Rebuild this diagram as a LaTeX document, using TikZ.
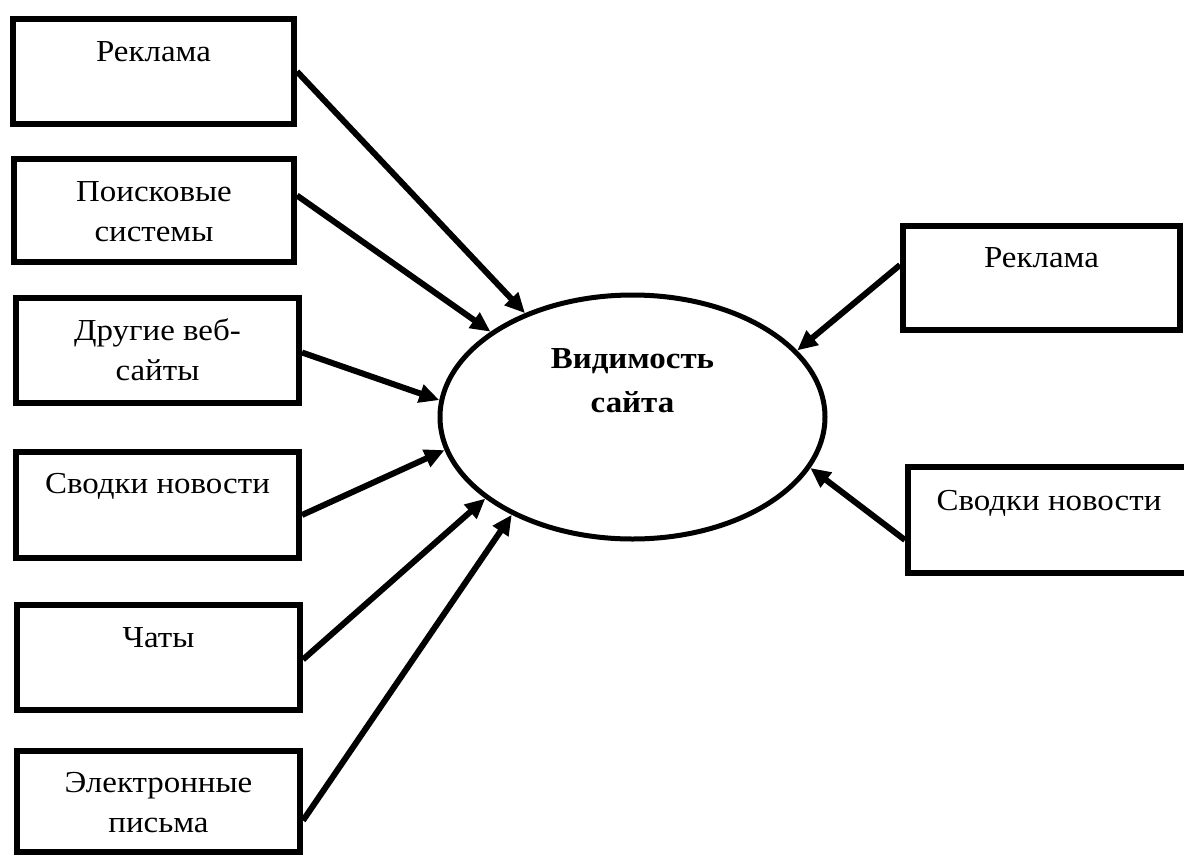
\documentclass[tikz,border=0pt]{standalone}
\usepackage{fontspec}
\setmainfont{Liberation Serif}[FakeStretch=1.08]
\usetikzlibrary{arrows.meta,shapes.geometric}
\begin{document}
\begin{tikzpicture}[x=1pt,y=-1pt,
  every node/.style={font=\fontsize{30.5}{40}\selectfont},
  srcbox/.style={draw, rectangle, line width=6pt, inner sep=0pt},
  lbl/.style={anchor=base, inner sep=0pt},
  feed/.style={line width=6pt, -{Triangle[length=20pt,width=18pt]}}]
\useasboundingbox (0,0) rectangle (1184,855);
\clip (0,0) rectangle (1184,855);

% central ellipse
\node[draw, ellipse, line width=5pt, minimum width=385pt, minimum height=244pt, inner sep=0pt] (vis) at (632.5,417) {};
\node[lbl, font=\bfseries\fontsize{30.5}{44}\selectfont] (vistext) at (632.5,368)
  {\begin{tabular}[t]{@{}c@{}}Видимость\\сайта\end{tabular}};

% sources on the left
\node[srcbox, minimum width=281pt, minimum height=105pt] (b1) at (153.5,71.5) {};
\node[srcbox, minimum width=280pt, minimum height=103pt] (b2) at (154,210.5) {};
\node[srcbox, minimum width=283pt, minimum height=105pt] (b3) at (157.5,350.5) {};
\node[srcbox, minimum width=283pt, minimum height=106pt] (b4) at (157.5,505) {};
\node[srcbox, minimum width=283pt, minimum height=105pt] (b5) at (158.5,657.5) {};
\node[srcbox, minimum width=283pt, minimum height=101pt] (b6) at (158.5,801.5) {};

% sources on the right
\node[srcbox, minimum width=277pt, minimum height=104pt] (r1) at (1041.5,278) {};
\node[srcbox, minimum width=282pt, minimum height=106pt] (r2) at (1049,520) {};

% labels
\node[lbl] (t1) at ([yshift=-45pt]b1.north) {Реклама};
\node[lbl] (t2) at ([yshift=-45pt]b2.north) {\begin{tabular}[t]{@{}c@{}}Поисковые\\системы\end{tabular}};
\node[lbl] (t3) at ([yshift=-45pt]b3.north) {\begin{tabular}[t]{@{}c@{}}Другие веб-\\сайты\end{tabular}};
\node[lbl] (t4) at ([yshift=-44pt]b4.north) {Сводки новости};
\node[lbl] (t5) at ([yshift=-45pt]b5.north) {Чаты};
\node[lbl] (t6) at ([yshift=-44pt]b6.north) {\begin{tabular}[t]{@{}c@{}}Электронные\\письма\end{tabular}};
\node[lbl] (t7) at ([yshift=-44pt]r1.north) {Реклама};
\node[lbl] (t8) at ([yshift=-46pt]r2.north) {Сводки новости};

% connectors
\draw[feed] (b1.east) -- (vis.136.7);
\draw[feed] ([yshift=15pt]b2.east) -- (vis.149.8);
\draw[feed] ([yshift=-2pt]b3.east) -- (vis.175.6);
\draw[feed] ([yshift=-10pt]b4.east) -- (vis.190.5);
\draw[feed] ([yshift=-2pt]b5.east) -- (vis.209.8);
\draw[feed] ([yshift=-19pt]b6.east) -- (vis.219.7);
\draw[feed] ([yshift=13pt]r1.west) -- (vis.22.4);
\draw[feed] ([yshift=-20pt]r2.west) -- (vis.-16.5);
\end{tikzpicture}
\end{document}
